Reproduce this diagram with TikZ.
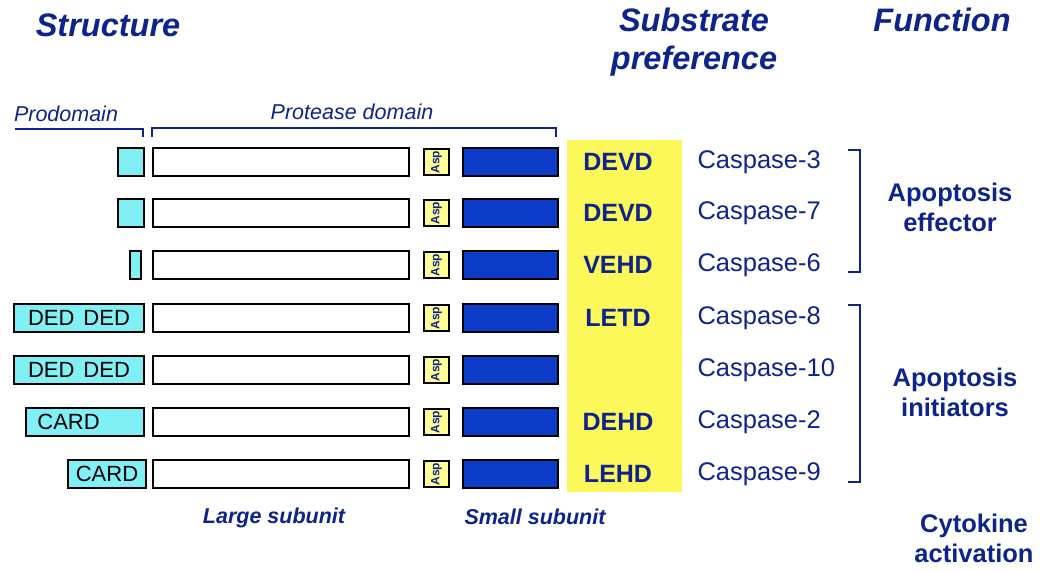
\documentclass[tikz,border=0pt]{standalone}
\usepackage{fontspec}
\setmainfont{Liberation Sans}
\definecolor{navy}{RGB}{14,36,140}
\definecolor{boxblue}{RGB}{12,60,200}
\definecolor{cyanfill}{RGB}{128,240,245}
\definecolor{colyellow}{RGB}{252,248,90}
\definecolor{aspyellow}{RGB}{255,255,150}
\begin{document}
\begin{tikzpicture}[x=1pt,y=-1pt,
  hdr/.style={text=navy,font=\fontsize{32.5}{38}\selectfont\bfseries\itshape,align=center},
  sub/.style={text=navy,font=\fontsize{21.5}{24}\selectfont\itshape},
  subb/.style={text=navy,font=\fontsize{21.5}{24}\selectfont\bfseries\itshape},
  pro/.style={draw=black,line width=2.2pt,fill=cyanfill,inner sep=0pt,minimum height=28pt},
  dom/.style={text=black,font=\fontsize{22}{24}\selectfont},
  large/.style={draw=black,line width=2.2pt,fill=white,inner sep=0pt,minimum height=28pt,minimum width=256pt},
  asp/.style={draw=black,line width=2pt,fill=aspyellow,inner sep=0pt,minimum height=26pt,minimum width=25pt},
  small/.style={draw=black,line width=2pt,fill=boxblue,inner sep=0pt,minimum height=28pt,minimum width=95pt},
  aspt/.style={text=navy,font=\fontsize{12}{12}\selectfont\bfseries,rotate=90},
  motif/.style={text=navy,font=\fontsize{25}{27}\selectfont\bfseries},
  casp/.style={text=navy,font=\fontsize{25.5}{27}\selectfont,anchor=west},
  func/.style={text=navy,font=\fontsize{25.5}{30}\selectfont\bfseries,align=center},
  brk/.style={draw=navy,line width=1.6pt}]
\useasboundingbox (0,0) rectangle (1040,571);
% headers
\node[hdr] (hstruct) at (108,25) {Structure};
\node[hdr] (hsub) at (694,42) {Substrate\\preference};
\node[hdr] (hfunc) at (942,20) {Function};
% domain labels and brackets
\node[sub] (lpro) at (66,114) {Prodomain};
\node[sub] (lprot) at (352,112) {Protease domain};
\draw[brk] (15,129) -- (143,129) -- (143,137);
\draw[brk] (152,137) -- (152,128) -- (556,128) -- (556,137);
% yellow column
\node[fill=colyellow,inner sep=0pt,minimum width=115pt,minimum height=352pt] (col) at (624.5,316) {};
% rows
\foreach \i/\y/\pl/\pr/\mot/\cas in {
  1/162/118/144/DEVD/Caspase-3,
  2/213/118/144/DEVD/Caspase-7,
  3/265/130/141/VEHD/Caspase-6,
  4/318/14/144/LETD/Caspase-8,
  5/370/14/144//Caspase-10,
  6/422/26/144/DEHD/Caspase-2,
  7/474/68/146/LEHD/Caspase-9}{
  \node[pro,minimum width=\pr-\pl] (p\i) at ({(\pl+\pr)/2},\y) {};
  \node[large] (l\i) at (281,\y) {};
  \node[asp] (a\i) at (436.5,\y) {};
  \node[aspt] (at\i) at (a\i) {Asp};
  \node[small] (s\i) at (510,\y) {};
  \node[motif] (m\i) at (618,\y) {\mot};
  \node[casp] (c\i) at (694,\y) {\cas};
}
\node[dom] (d4) at (p4) {DED\hspace{9pt}DED};
\node[dom] (d5) at (p5) {DED\hspace{9pt}DED};
\node[dom,anchor=west] (d6) at ([xshift=9pt]p6.west) {CARD};
\node[dom] (d7) at (p7) {CARD};
% brackets
\coordinate (e1) at (848,150); \coordinate (e2) at (860,150);
\coordinate (e3) at (860,272); \coordinate (e4) at (848,272);
\draw[brk] (e1) -- (e2) -- (e3) -- (e4);
\coordinate (i1) at (848,305); \coordinate (i2) at (860,305);
\coordinate (i3) at (860,482); \coordinate (i4) at (848,482);
\draw[brk] (i1) -- (i2) -- (i3) -- (i4);
% function labels
\node[func] (feff) at (950,207) {Apoptosis\\effector};
\node[func] (fini) at (955,392) {Apoptosis\\initiators};
\node[func] (fcyt) at (974,538) {Cytokine\\activation};
% subunit labels
\node[subb] (lls) at (274,518) {Large subunit};
\node[subb] (lss) at (535,517) {Small subunit};
\end{tikzpicture}
\end{document}
